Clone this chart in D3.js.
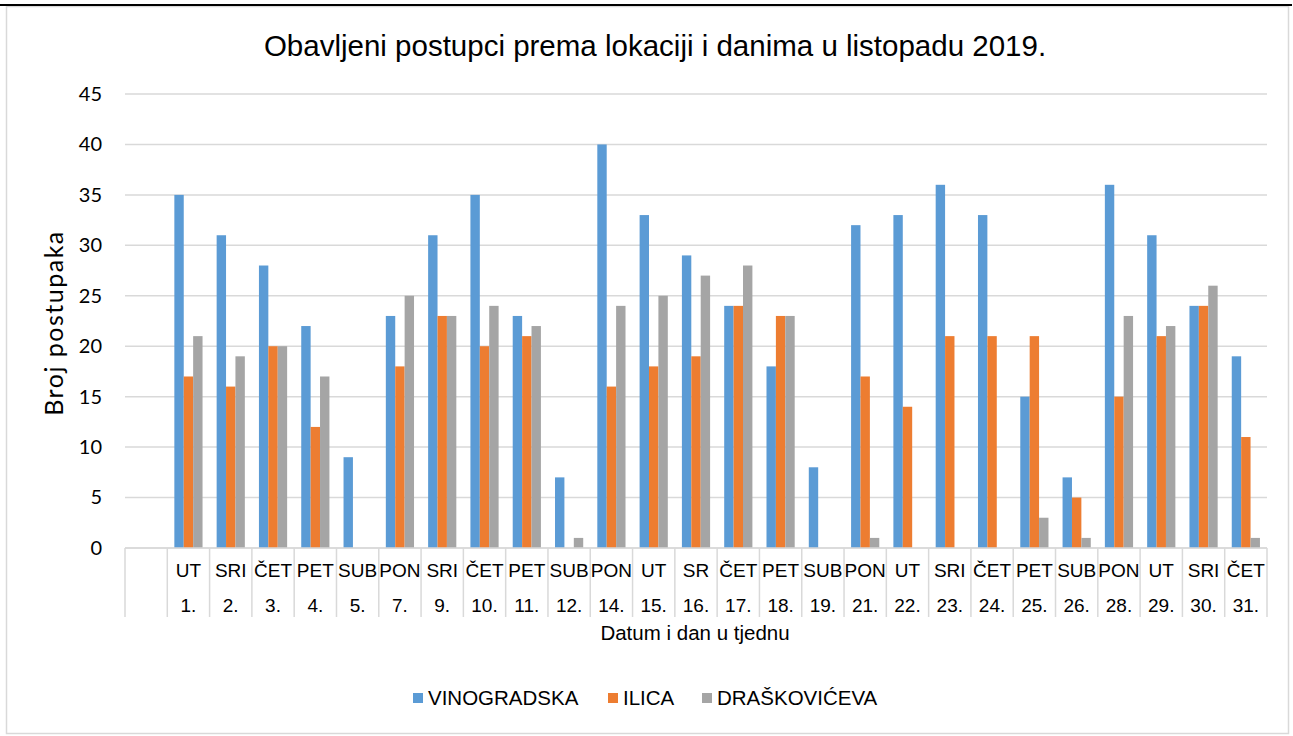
<!DOCTYPE html>
<html>
<head>
<meta charset="utf-8">
<script src="https://cdn.jsdelivr.net/npm/d3@7"></script>
<style>
  body { margin: 0; background: #fff; }
  svg { display: block; }
</style>
</head>
<body>
<div id="chart"></div>
<script>
// first category is an empty row in the source sheet
var days = ["", "UT", "SRI", "ČET", "PET", "SUB", "PON", "SRI", "ČET", "PET", "SUB", "PON", "UT", "SR", "ČET", "PET", "SUB", "PON", "UT", "SRI", "ČET", "PET", "SUB", "PON", "UT", "SRI", "ČET"];
var dates = ["", "1.", "2.", "3.", "4.", "5.", "7.", "9.", "10.", "11.", "12.", "14.", "15.", "16.", "17.", "18.", "19.", "21.", "22.", "23.", "24.", "25.", "26.", "28.", "29.", "30.", "31."];
var vinogradska = [null, 35, 31, 28, 22, 9, 23, 31, 35, 23, 7, 40, 33, 29, 24, 18, 8, 32, 33, 36, 33, 15, 7, 36, 31, 24, 19];
var ilica = [null, 17, 16, 20, 12, null, 18, 23, 20, 21, null, 16, 18, 19, 24, 23, null, 17, 14, 21, 21, 21, 5, 15, 21, 24, 11];
var draskoviceva = [null, 21, 19, 20, 17, null, 25, 23, 24, 22, 1, 24, 25, 27, 28, 23, null, 1, null, null, null, 3, 1, 23, 22, 26, 1];
var seriesNames = ["VINOGRADSKA", "ILICA", "DRAŠKOVIĆEVA"];
var colors = ["#5b9bd5", "#ed7d31", "#a5a5a5"];
var yTicks = [0, 5, 10, 15, 20, 25, 30, 35, 40, 45];

var W = 1293, H = 736;
var margin = { top: 94, right: 26, bottom: 188, left: 125 };
var width = W - margin.left - margin.right,
  height = H - margin.top - margin.bottom;

var svg = d3.select("#chart").append("svg")
  .attr("width", W)
  .attr("height", H);

// chart frame
svg.append("rect")
  .attr("x", 6.5).attr("y", 6.5)
  .attr("width", 1282).attr("height", 727)
  .attr("fill", "#fff")
  .attr("stroke", "#d9d9d9")
  .attr("stroke-width", 1.5);
svg.append("line")
  .attr("x1", 0).attr("x2", 1292)
  .attr("y1", 5).attr("y2", 5)
  .attr("stroke", "#000").attr("stroke-width", 2);

var g = svg.append("g")
  .attr("transform", "translate(" + margin.left + "," + margin.top + ")");

var x = d3.scaleBand().domain(d3.range(days.length)).range([0, width]).padding(0);
var y = d3.scaleLinear().domain([0, 45]).range([height, 0]);
var bw = x.bandwidth();
var barW = bw / 4.5;
var xs = d3.scaleBand().domain(d3.range(3)).range([barW * 0.75, bw - barW * 0.75]).padding(0);

// gridlines
g.append("g")
  .selectAll("line")
  .data(yTicks)
  .enter()
  .append("line")
  .attr("x1", 0).attr("x2", width)
  .attr("y1", (d) => y(d)).attr("y2", (d) => y(d))
  .attr("stroke", "#d9d9d9")
  .attr("stroke-width", 1.5);

// y axis labels
var yAxis = d3.axisLeft(y).tickValues(yTicks).tickSize(0).tickPadding(23);
g.append("g")
  .attr("class", "y axis")
  .call(yAxis)
  .call((s) => s.select(".domain").remove())
  .selectAll("text")
  .style("font-family", "Lato, sans-serif")
  .style("font-size", "20px")
  .attr("fill", "#000");

// bars
var series = [vinogradska, ilica, draskoviceva];
series.forEach(function (vals, si) {
  g.append("g")
    .attr("class", "series")
    .attr("fill", colors[si])
    .selectAll("rect")
    .data(vals.map((v, i) => ({ i: i, v: v })).filter((d) => d.v != null))
    .enter()
    .append("rect")
    .attr("x", (d) => x(d.i) + xs(si))
    .attr("y", (d) => y(d.v))
    .attr("width", xs.bandwidth())
    .attr("height", (d) => y(0) - y(d.v));
});

// two level category axis
var catH = 69;
var cat = g.append("g").attr("transform", "translate(0," + height + ")");
cat.selectAll("line.sep")
  .data(d3.range(days.length + 1))
  .enter()
  .append("line")
  .attr("class", "sep")
  .attr("x1", (d) => d * bw).attr("x2", (d) => d * bw)
  .attr("y1", 0).attr("y2", catH)
  .attr("stroke", "#d9d9d9")
  .attr("stroke-width", 1.5);
cat.append("line")
  .attr("x1", 0).attr("x2", width)
  .attr("y1", 0).attr("y2", 0)
  .attr("stroke", "#d9d9d9").attr("stroke-width", 1.5);

cat.selectAll("text.day")
  .data(days)
  .enter()
  .append("text")
  .attr("class", "day")
  .attr("x", (d, i) => x(i) + bw / 2)
  .attr("y", 29)
  .attr("text-anchor", "middle")
  .style("font-family", "'Liberation Sans', Arial, sans-serif")
  .style("font-size", "19px")
  .text((d) => d);
cat.selectAll("text.date")
  .data(dates)
  .enter()
  .append("text")
  .attr("class", "date")
  .attr("x", (d, i) => x(i) + bw / 2)
  .attr("y", 64)
  .attr("text-anchor", "middle")
  .style("font-family", "'Liberation Sans', Arial, sans-serif")
  .style("font-size", "19px")
  .text((d) => d);

// titles
svg.append("text")
  .attr("x", 655)
  .attr("y", 56)
  .attr("text-anchor", "middle")
  .style("font-family", "'Liberation Sans', Arial, sans-serif")
  .style("font-size", "29.5px")
  .text("Obavljeni postupci prema lokaciji i danima u listopadu 2019.");

svg.append("text")
  .attr("x", 695)
  .attr("y", 640)
  .attr("text-anchor", "middle")
  .style("font-family", "'Liberation Sans', Arial, sans-serif")
  .style("font-size", "20.5px")
  .text("Datum i dan u tjednu");

svg.append("text")
  .attr("transform", "translate(63,323)rotate(-90)")
  .attr("text-anchor", "middle")
  .style("font-family", "Lato, sans-serif")
  .style("font-size", "25px")
  .style("letter-spacing", "1.5px")
  .text("Broj postupaka");

// legend
var legendX = [413, 608, 702];
var legend = svg.selectAll(".legend")
  .data(seriesNames)
  .enter()
  .append("g")
  .attr("class", "legend")
  .attr("transform", (d, i) => "translate(" + legendX[i] + ",693)");
legend.append("rect")
  .attr("width", 10).attr("height", 10)
  .attr("fill", (d, i) => colors[i]);
legend.append("text")
  .attr("x", 15)
  .attr("y", 12)
  .style("font-family", "'Liberation Sans', Arial, sans-serif")
  .style("font-size", "20.5px")
  .text((d) => d);
</script>
</body>
</html>
